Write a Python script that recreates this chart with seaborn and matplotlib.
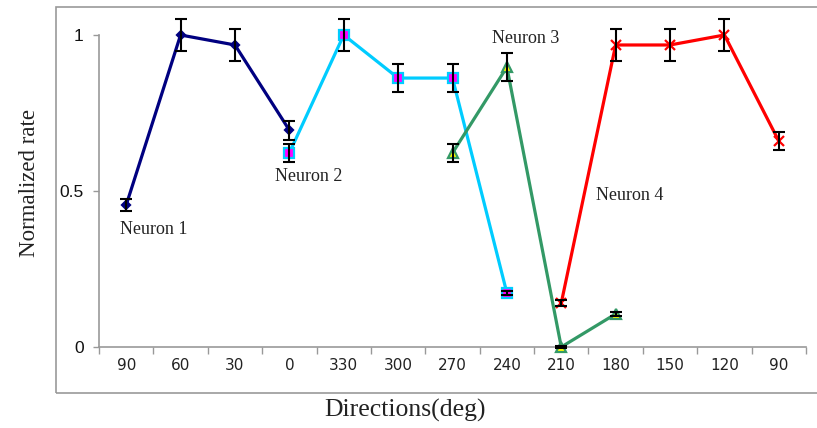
import numpy as np
import pandas as pd
import matplotlib
matplotlib.use('Agg')
import matplotlib.pyplot as plt
import seaborn as sns
from matplotlib.patches import Rectangle

sns.set_theme(style='white')

# direction categories along the x axis
directions = ['90', '60', '30', '0', '330', '300', '270', '240', '210', '180', '150', '120', '90']

# each neuron: first category index, normalized rate, error
n1_start = 0
n1_rate = [0.455, 1.0, 0.968, 0.695]
n1_err = [0.02, 0.05, 0.05, 0.03]

n2_start = 3
n2_rate = [0.622, 1.0, 0.862, 0.862, 0.173]
n2_err = [0.03, 0.05, 0.045, 0.045, 0.006]

n3_start = 6
n3_rate = [0.622, 0.897, 0.0, 0.106]
n3_err = [0.03, 0.045, 0.004, 0.006]

n4_start = 8
n4_rate = [0.141, 0.968, 0.968, 1.0, 0.66]
n4_err = [0.01, 0.05, 0.05, 0.05, 0.03]

neurons = [
    ('Neuron 1', n1_start, n1_rate, n1_err),
    ('Neuron 2', n2_start, n2_rate, n2_err),
    ('Neuron 3', n3_start, n3_rate, n3_err),
    ('Neuron 4', n4_start, n4_rate, n4_err),
]

styles = {
    'Neuron 1': dict(color='#000080', marker='D', markersize=4, mfc='#000080', mec='#000080'),
    'Neuron 2': dict(color='#00CCFF', marker='s', markersize=7, mfc='#FF00FF', mec='#00CCFF'),
    'Neuron 3': dict(color='#339966', marker='^', markersize=7, mfc='#FFFF00', mec='#339966'),
    'Neuron 4': dict(color='#FF0000', marker='x', markersize=7, mfc='#FF0000', mec='#FF0000'),
}

label_pos = {
    'Neuron 1': (0.5, 0.375),
    'Neuron 2': (3.35, 0.548),
    'Neuron 3': (7.35, 0.99),
    'Neuron 4': (9.26, 0.487),
}

rows = []
for name, start, rate, err in neurons:
    for i, (r, e) in enumerate(zip(rate, err)):
        rows.append(dict(neuron=name, pos=start + i, rate=r, err=e))
df = pd.DataFrame(rows)

fig = plt.figure(figsize=(8.17, 4.28), dpi=100)
ax = fig.add_axes([99 / 817, 1 - 347 / 428, (806 - 99) / 817, (347 - 35) / 428])

# outer frame around the chart
fig.patches.append(Rectangle((56 / 817, 1 - 393 / 428), 1.0, (393 - 7) / 428,
                             transform=fig.transFigure, fill=False,
                             edgecolor='#999999', linewidth=1.2, zorder=0))

for name, sub in df.groupby('neuron'):
    st = styles[name]
    sns.lineplot(data=sub, x='pos', y='rate', ax=ax, color=st['color'], linewidth=2.3,
                 marker=st['marker'], markersize=st['markersize'],
                 markerfacecolor=st['mfc'], markeredgecolor=st['mec'],
                 markeredgewidth=1.6, clip_on=False, zorder=3, legend=False)
    ax.errorbar(sub['pos'], sub['rate'], yerr=sub['err'], fmt='none', ecolor='black',
                elinewidth=1.5, capsize=4.5, capthick=1.5, clip_on=False, zorder=4)
    lx, ly = label_pos[name]
    ax.text(lx, ly, name, ha='center', va='center', fontsize=13,
            family='Liberation Serif', color='#222222')

ax.set_xlim(-0.5, len(directions) - 0.5)
ax.set_ylim(0, 1)
ax.set_xticks(np.arange(len(directions)))
ax.set_xticklabels(directions, family='DejaVu Sans', fontsize=11, color='#222222')
ax.set_xticks(np.arange(len(directions) + 1) - 0.5, minor=True)
ax.tick_params(axis='x', which='major', length=0, pad=8)
ax.tick_params(axis='x', which='minor', length=5, color='#999999', width=1, direction='out', bottom=True)
ax.set_yticks([0, 0.5, 1])
ax.set_yticklabels(['0', '0.5', '1'], family='Liberation Sans', fontsize=12.5, color='#111111')
ax.tick_params(axis='y', length=4, color='#999999', width=1, direction='out', left=True, pad=7)

for side in ['top', 'right']:
    ax.spines[side].set_visible(False)
for side in ['left', 'bottom']:
    ax.spines[side].set_color('#999999')
    ax.spines[side].set_linewidth(1.2)

ax.set_xlabel('')
ax.set_ylabel('')
fig.text(405 / 817, 1 - 410 / 428, 'Directions(deg)', ha='center', va='center',
         fontsize=18.5, family='Liberation Serif', color='#222222')
fig.text(30 / 817, 1 - 183 / 428, 'Normalized rate', ha='center', va='center', rotation=90,
         fontsize=16.5, family='Liberation Serif', color='#222222')

fig.savefig('out.png', dpi=100)
